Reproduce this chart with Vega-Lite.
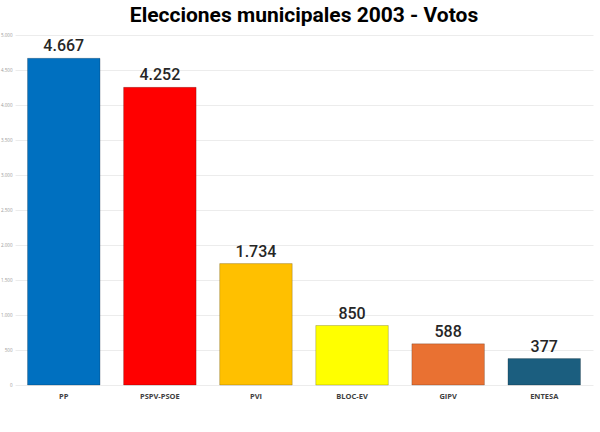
{
  "$schema": "https://vega.github.io/schema/vega-lite/v6.json",
  "width": 578,
  "height": 350,
  "autosize": {"type": "none"},
  "padding": {"left": 15, "top": 35, "right": 7, "bottom": 47},
  "background": "white",
  "config": {
    "locale": {
      "number": {"decimal": ",", "thousands": ".", "grouping": [3], "currency": ["", " €"]}
    },
    "view": {"stroke": null}
  },
  "title": {
    "text": "Elecciones municipales 2003 - Votos",
    "font": "Roboto",
    "fontSize": 21,
    "fontWeight": "bold",
    "color": "#000000",
    "anchor": "middle",
    "offset": 6
  },
  "data": {
    "values": [
      {"partido": "PP", "votos": 4667},
      {"partido": "PSPV-PSOE", "votos": 4252},
      {"partido": "PVI", "votos": 1734},
      {"partido": "BLOC-EV", "votos": 850},
      {"partido": "GIPV", "votos": 588},
      {"partido": "ENTESA", "votos": 377}
    ]
  },
  "encoding": {
    "x": {
      "field": "partido",
      "type": "nominal",
      "sort": null,
      "scale": {"paddingInner": 0.245, "paddingOuter": 0.13},
      "axis": {
        "title": null,
        "labelAngle": 0,
        "labelFont": "Open Sans",
        "labelFontSize": 7.5,
        "labelFontWeight": "bold",
        "labelColor": "#404040",
        "labelPadding": 7,
        "ticks": false,
        "domain": false
      }
    },
    "y": {
      "field": "votos",
      "type": "quantitative",
      "scale": {"domain": [0, 5000]},
      "axis": {
        "title": null,
        "values": [0, 500, 1000, 1500, 2000, 2500, 3000, 3500, 4000, 4500, 5000],
        "format": ",.0f",
        "labelFont": "Open Sans",
        "labelFontSize": 4.5,
        "labelColor": "#9a9a9a",
        "labelPadding": 3,
        "ticks": false,
        "domain": false,
        "grid": true,
        "gridColor": "#ececec",
        "gridWidth": 1
      }
    }
  },
  "layer": [
    {
      "mark": {"type": "bar", "stroke": "#000000", "strokeOpacity": 0.25, "strokeWidth": 0.8},
      "encoding": {
        "color": {
          "field": "partido",
          "type": "nominal",
          "scale": {
            "domain": ["PP", "PSPV-PSOE", "PVI", "BLOC-EV", "GIPV", "ENTESA"],
            "range": ["#0070C0", "#FF0000", "#FFC000", "#FFFF00", "#E97132", "#1B5E7F"]
          },
          "legend": null
        }
      }
    },
    {
      "mark": {"type": "text", "baseline": "bottom", "dy": -4, "font": "Roboto", "fontSize": 16, "fontWeight": 500, "color": "#262626"},
      "encoding": {
        "text": {"field": "votos", "type": "quantitative", "format": ",.0f"}
      }
    }
  ]
}
